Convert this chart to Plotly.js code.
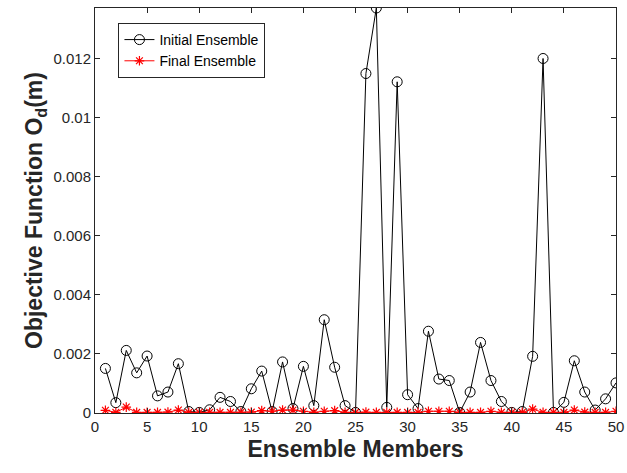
<!DOCTYPE html>
<html>
<head>
<meta charset="utf-8">
<script src="https://cdn.plot.ly/plotly-3.0.1.min.js"></script>
<style>html,body{margin:0;padding:0;background:#fff;}#chart{width:627px;height:473px;}</style>
</head>
<body>
<div id="chart"></div>
<script>
const members = Array.from({length: 50}, (_, i) => i + 1);
const initialEnsemble = [
  0.00151, 0.00035, 0.00212, 0.00136, 0.00193, 0.00058, 0.00071, 0.00167, 0.00005, 0.00002,
  0.00011, 0.00053, 0.00039, 0.00005, 0.00082, 0.00142, 0.00005, 0.00173, 0.00015, 0.00158,
  0.00025, 0.00316, 0.00155, 0.00025, 0.00002, 0.0115, 0.01372, 0.00019, 0.01122, 0.00062,
  0.00015, 0.00277, 0.00115, 0.0011, 0.00002, 0.00071, 0.00239, 0.0011, 0.00039, 0.00002,
  0.00005, 0.00192, 0.01201, 0.00002, 0.00036, 0.00177, 0.00071, 0.0001, 0.00048, 0.00102
];
const finalEnsemble = [
  0.00009, 0.00002, 0.0002, 0.00002, 0.00002, 0.00002, 0.00003, 0.0001, 0.00002, 0.00002,
  0.00002, 0.00002, 0.00002, 0.00002, 0.00003, 0.00008, 0.00006, 0.0001, 0.0001, 0.00006,
  0.00002, 0.00006, 0.00008, 0.00002, 0.00002, 0.00003, 0.00002, 0.00002, 0.00002, 0.00002,
  0.00002, 0.00006, 0.00006, 0.00006, 0.00002, 0.00002, 0.00002, 0.00006, 0.00002, 0.00002,
  0.00002, 0.00013, 0.00002, 0.00002, 0.00002, 0.0001, 0.00003, 0.00002, 0.00002, 0.00006
];
const yTickVals = [0, 0.002, 0.004, 0.006, 0.008, 0.01, 0.012];
const yTickText = ['0', '0.002', '0.004', '0.006', '0.008', '0.01', '0.012'];
const xTickVals = [0, 5, 10, 15, 20, 25, 30, 35, 40, 45, 50];

const FONT = 'Liberation Sans, Arial, Helvetica, sans-serif';

const traces = [
  {
    x: members, y: initialEnsemble, type: 'scatter', mode: 'lines+markers',
    name: 'Initial Ensemble',
    line: {color: '#000000', width: 1},
    marker: {symbol: 'circle-open', size: 10, color: '#000000', line: {width: 1, color: '#000000'}}
  },
  {
    x: members, y: finalEnsemble, type: 'scatter', mode: 'lines+markers',
    name: 'Final Ensemble',
    line: {color: '#ff0000', width: 1},
    marker: {symbol: 'asterisk-open', size: 8, color: '#ff0000', line: {width: 1.2, color: '#ff0000'}}
  }
];

const axisCommon = {
  showgrid: false, zeroline: false, showline: true, mirror: 'ticks',
  linecolor: '#262626', linewidth: 1, ticks: 'inside', ticklen: 5,
  tickcolor: '#262626', tickfont: {family: FONT, size: 15, color: '#262626'}
};

const layout = {
  width: 627, height: 473,
  margin: {l: 95, r: 11, t: 8, b: 60},
  paper_bgcolor: '#ffffff', plot_bgcolor: '#ffffff',
  showlegend: true,
  legend: {
    x: 0.045, y: 0.963, xanchor: 'left', yanchor: 'top',
    bgcolor: '#ffffff', bordercolor: '#262626', borderwidth: 1,
    font: {family: FONT, size: 14, color: '#000000'},
    tracegroupgap: 0, itemwidth: 30
  },
  xaxis: Object.assign({}, axisCommon, {
    range: [0, 50], tickvals: xTickVals,
    title: {text: '<b>Ensemble Members</b>', font: {family: FONT, size: 23, color: '#262626'}, standoff: 6}
  }),
  yaxis: Object.assign({}, axisCommon, {
    range: [0, 0.01372], tickvals: yTickVals, ticktext: yTickText,
    title: {text: '<b>Objective Function O<sub>d</sub>(m)</b>', font: {family: FONT, size: 23, color: '#262626'}, standoff: 4}
  })
};

Plotly.newPlot('chart', traces, layout, {displayModeBar: false, staticPlot: true});
</script>
</body>
</html>
